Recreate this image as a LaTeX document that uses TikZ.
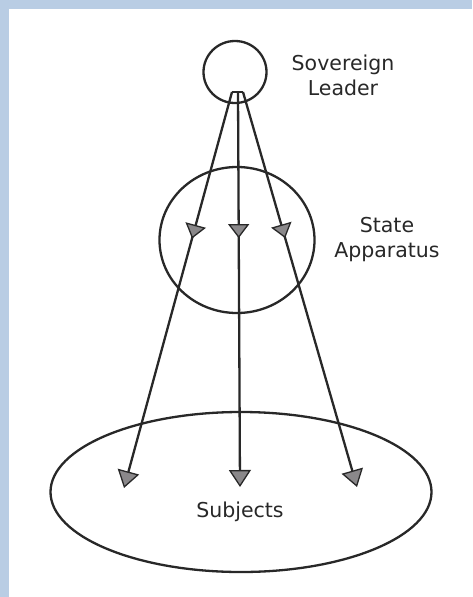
\documentclass[tikz,border=0pt]{standalone}
\usepackage{fontspec}
\setmainfont{DejaVu Sans}
\usetikzlibrary{arrows.meta,decorations.markings,shapes.geometric}
\definecolor{frameblue}{RGB}{185,205,228}
\definecolor{ink}{RGB}{40,40,40}
\definecolor{headfill}{RGB}{138,136,138}
\begin{document}
\begin{tikzpicture}[x=1pt,y=-1pt,
  ring/.style={draw=ink,line width=2.3pt,ellipse,inner sep=0pt},
  lbl/.style={font=\fontsize{20.5}{25}\selectfont,text=ink,align=center},
  ray/.style={draw=ink,line width=2.3pt,-{Triangle[width=22pt,length=17pt,fill=headfill,line width=1.3pt]},
    postaction={decorate},
    decoration={markings,mark=at position #1 with {\arrow{Triangle[width=21pt,length=14pt,fill=headfill,line width=1.3pt]}}}}
]
\useasboundingbox (0,0) rectangle (472,597);
\fill[frameblue] (0,0) rectangle (472,597);
\fill[white] (9,9) rectangle (472,597);

\node[ring,minimum width=63pt,minimum height=62pt] (leader) at (235,72) {};
\node[ring,minimum width=155pt,minimum height=146pt] (state) at (237,240) {};
\node[ring,minimum width=381pt,minimum height=160pt] (subjects) at (241,492) {};

\node[lbl] (leaderlbl) at (343,75) {Sovereign\\Leader};
\node[lbl] (statelbl) at (387,240) {State\\Apparatus};
\node[lbl,anchor=base] (subjlbl) at (240,517) {Subjects};

\coordinate (s1) at (232,92);
\coordinate (s2) at (238,92);
\coordinate (s3) at (243,92);
\coordinate (e1) at (124,488);
\coordinate (e2) at (240,487);
\coordinate (e3) at (357,487);

\draw[draw=ink,line width=2.3pt] (s1) -- (s3);
\draw[ray=0.37] (s1) -- (e1);
\draw[ray=0.37] (s2) -- (e2);
\draw[ray=0.37] (s3) -- (e3);
\end{tikzpicture}
\end{document}
